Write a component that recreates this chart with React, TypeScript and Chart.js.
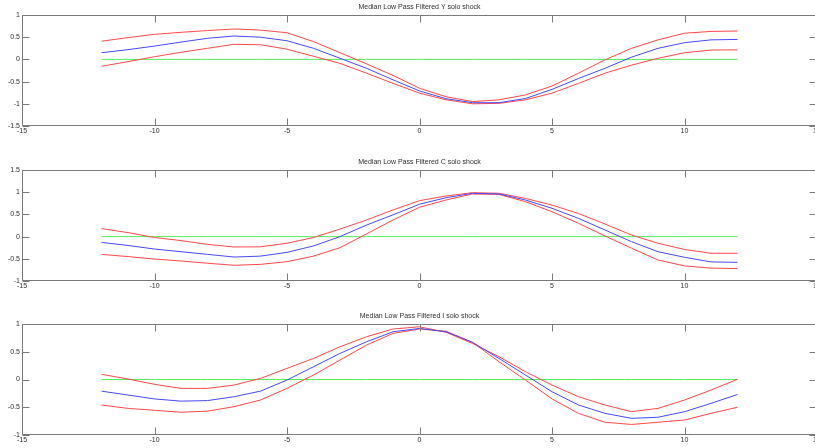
import React, { useEffect, useRef } from "react";
import { Chart, registerables } from "chart.js";

Chart.register(...registerables);

// Horizon (periods around the shock)
const horizon = [-12, -11, -10, -9, -8, -7, -6, -5, -4, -3, -2, -1, 0, 1, 2, 3, 4, 5, 6, 7, 8, 9, 10, 11, 12];

// Output (Y) response: upper band, median, lower band
const yUpper = [0.41, 0.49, 0.565, 0.61, 0.65, 0.685, 0.66, 0.6, 0.4, 0.15, -0.1, -0.36, -0.65, -0.84, -0.95, -0.91, -0.8, -0.6, -0.31, -0.01, 0.25, 0.44, 0.59, 0.63, 0.64];
const yMedian = [0.15, 0.22, 0.3, 0.39, 0.475, 0.527, 0.5, 0.42, 0.25, 0.025, -0.2, -0.46, -0.71, -0.885, -0.975, -0.975, -0.88, -0.675, -0.43, -0.2, 0.05, 0.25, 0.376, 0.44, 0.45];
const yLower = [-0.155, -0.05, 0.06, 0.16, 0.25, 0.34, 0.33, 0.23, 0.07, -0.09, -0.31, -0.54, -0.76, -0.91, -1.0, -0.99, -0.91, -0.76, -0.54, -0.31, -0.13, 0.025, 0.15, 0.21, 0.215];

// Consumption (C) response
const cUpper = [0.18, 0.09, -0.02, -0.09, -0.175, -0.234, -0.23, -0.15, -0.02, 0.17, 0.374, 0.6, 0.81, 0.914, 0.99, 0.975, 0.86, 0.71, 0.52, 0.284, 0.036, -0.15, -0.29, -0.376, -0.376];
const cMedian = [-0.13, -0.2, -0.28, -0.34, -0.4, -0.46, -0.44, -0.355, -0.21, 0.0, 0.26, 0.49, 0.73, 0.876, 0.975, 0.96, 0.824, 0.637, 0.41, 0.149, -0.114, -0.34, -0.466, -0.57, -0.58];
const cLower = [-0.4, -0.45, -0.505, -0.55, -0.6, -0.646, -0.625, -0.565, -0.44, -0.25, 0.06, 0.374, 0.66, 0.824, 0.96, 0.95, 0.786, 0.56, 0.3, 0.014, -0.26, -0.527, -0.66, -0.71, -0.72];

// Investment (I) response
const iUpper = [0.094, 0.009, -0.087, -0.16, -0.16, -0.1, 0.02, 0.2, 0.38, 0.59, 0.77, 0.91, 0.95, 0.85, 0.65, 0.41, 0.14, -0.1, -0.31, -0.46, -0.58, -0.52, -0.37, -0.19, 0.004];
const iMedian = [-0.21, -0.28, -0.35, -0.39, -0.38, -0.31, -0.21, -0.01, 0.23, 0.47, 0.68, 0.86, 0.92, 0.86, 0.67, 0.38, 0.08, -0.22, -0.46, -0.61, -0.7, -0.68, -0.58, -0.43, -0.27];
const iLower = [-0.46, -0.52, -0.555, -0.59, -0.57, -0.49, -0.37, -0.16, 0.08, 0.35, 0.62, 0.83, 0.91, 0.87, 0.67, 0.32, -0.01, -0.35, -0.61, -0.77, -0.81, -0.77, -0.73, -0.61, -0.5];

const zeroLine = horizon.map(() => 0);

const titles = [
  "Median Low Pass Filtered Y solo shock",
  "Median Low Pass Filtered C solo shock",
  "Median Low Pass Filtered I solo shock",
];
const yLimits = [
  [-1.5, 1],
  [-1, 1.5],
  [-1, 1],
];
const xLimits = [-15, 15];

const FONT = "'Liberation Sans', Arial, sans-serif";
const TEXT = "#2e2e2e";
const AXIS = "#7a7a7a";
const TICK_LEN = 7;

const pts = (ys: number[]) => horizon.map((x, i) => ({ x, y: ys[i] }));

// Axes box with inward tick marks and the panel title
const boxPlugin = {
  id: "matlabBox",
  afterDraw(chart: any) {
    const { ctx, chartArea: a, scales } = chart;
    const title = chart.options.plugins.panelTitle.text;
    ctx.save();
    ctx.strokeStyle = AXIS;
    ctx.lineWidth = 1;
    const L = Math.round(a.left) + 0.5;
    const R = Math.round(a.right) - 0.5;
    const T = Math.round(a.top) + 0.5;
    const B = Math.round(a.bottom) - 0.5;
    ctx.beginPath();
    ctx.rect(L, T, R - L, B - T);
    ctx.stroke();
    ctx.beginPath();
    scales.x.ticks.forEach((t: any) => {
      const px = Math.round(scales.x.getPixelForValue(t.value)) + 0.5;
      ctx.moveTo(px, B);
      ctx.lineTo(px, B - TICK_LEN);
      ctx.moveTo(px, T);
      ctx.lineTo(px, T + TICK_LEN);
    });
    scales.y.ticks.forEach((t: any) => {
      const py = Math.round(scales.y.getPixelForValue(t.value)) + 0.5;
      ctx.moveTo(L, py);
      ctx.lineTo(L + TICK_LEN, py);
      ctx.moveTo(R, py);
      ctx.lineTo(R - TICK_LEN, py);
    });
    ctx.stroke();
    ctx.fillStyle = TEXT;
    ctx.font = `7px ${FONT}`;
    ctx.textAlign = "center";
    ctx.textBaseline = "middle";
    ctx.fillText(title, (a.left + a.right) / 2, a.top - 8);
    ctx.restore();
  },
};

const plainNumber = (v: string | number) => String(Number(v));

function Panel({ idx, upper, median, lower, top }: { idx: number; upper: number[]; median: number[]; lower: number[]; top: number }) {
  const ref = useRef<HTMLCanvasElement>(null);
  useEffect(() => {
    const line = (data: number[], color: string, order: number) => ({
      data: pts(data),
      borderColor: color,
      backgroundColor: color,
      borderWidth: 1,
      pointRadius: 0,
      tension: 0,
      fill: false,
      order,
    });
    const chart = new Chart(ref.current!, {
      type: "line",
      data: {
        datasets: [
          line(zeroLine, "#55f055", 4),
          line(upper, "#ff4848", 3),
          line(lower, "#ff4848", 2),
          line(median, "#4848ff", 1),
        ],
      },
      options: {
        responsive: false,
        animation: false,
        devicePixelRatio: 1,
        layout: { padding: { top: 15, right: 23, left: 0, bottom: 0 } },
        plugins: {
          legend: { display: false },
          tooltip: { enabled: false },
          panelTitle: { text: titles[idx] },
        } as any,
        scales: {
          x: {
            type: "linear",
            min: xLimits[0],
            max: xLimits[1],
            ticks: { stepSize: 5, color: TEXT, font: { family: FONT, size: 7 }, padding: 1, maxRotation: 0, autoSkip: false, callback: plainNumber },
            grid: { display: false, drawTicks: false },
            border: { display: false },
            afterFit: (s: any) => {
              s.height = 14;
            },
          },
          y: {
            type: "linear",
            min: yLimits[idx][0],
            max: yLimits[idx][1],
            ticks: { stepSize: 0.5, color: TEXT, font: { family: FONT, size: 7 }, padding: 2, callback: plainNumber },
            grid: { display: false, drawTicks: false },
            border: { display: false },
            afterFit: (s: any) => {
              s.width = 22;
            },
          },
        },
      },
      plugins: [boxPlugin],
    });
    return () => chart.destroy();
  }, [idx, upper, median, lower]);
  return (
    <canvas
      ref={ref}
      width={840}
      height={140}
      style={{ position: "absolute", left: 0, top, width: 840, height: 140 }}
    />
  );
}

export default function App() {
  useEffect(() => {
    document.body.style.margin = "0";
  }, []);
  return (
    <div style={{ position: "fixed", left: 0, top: 0, width: 815, height: 448, overflow: "hidden", background: "#ffffff" }}>
      <Panel idx={0} upper={yUpper} median={yMedian} lower={yLower} top={0} />
      <Panel idx={1} upper={cUpper} median={cMedian} lower={cLower} top={155} />
      <Panel idx={2} upper={iUpper} median={iMedian} lower={iLower} top={309} />
    </div>
  );
}
